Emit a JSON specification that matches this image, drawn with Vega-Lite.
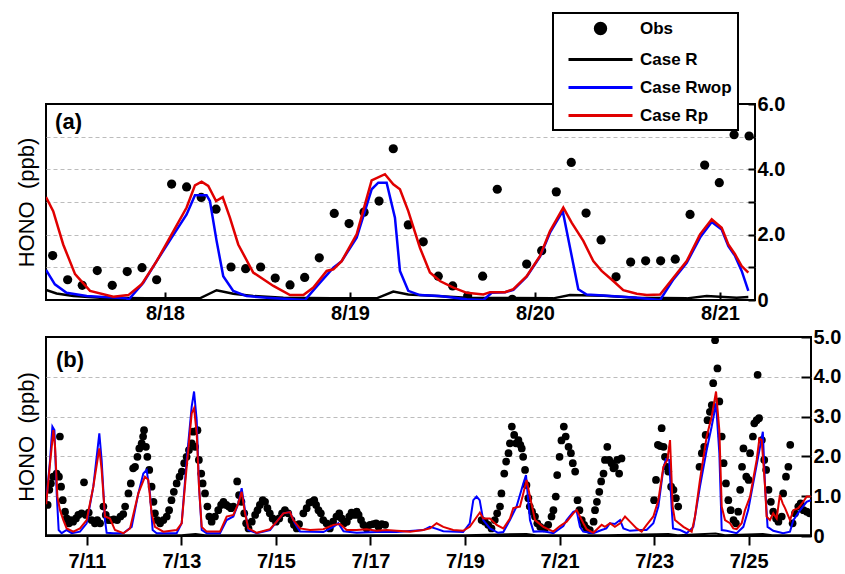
{
  "$schema": "https://vega.github.io/schema/vega-lite/v6.json",
  "padding": {"left": 14, "top": 11, "right": 2, "bottom": 2},
  "spacing": 2,
  "config": {
    "view": {"stroke": "black", "strokeWidth": 2},
    "font": "Liberation Sans",
    "axis": {"labelFont": "Liberation Sans", "labelFontWeight": "bold", "labelFontSize": 20, "labelColor": "black", "titleColor": "black", "tickColor": "black", "tickWidth": 2}
  },
  "resolve": {"scale": {"color": "independent"}, "legend": {"color": "independent"}},
  "datasets": {
    "obsA": [
      {"d":17.393,"v":1.36},{"d":17.474,"v":0.62},{"d":17.553,"v":0.45},{"d":17.634,"v":0.90},{"d":17.715,"v":0.45},{"d":17.796,"v":0.87},{"d":17.876,"v":0.99},{"d":17.955,"v":0.62},
      {"d":18.036,"v":3.55},{"d":18.117,"v":3.46},{"d":18.196,"v":3.14},{"d":18.276,"v":2.78},{"d":18.357,"v":1.01},{"d":18.436,"v":0.96},{"d":18.517,"v":1.01},{"d":18.596,"v":0.67},
      {"d":18.676,"v":0.46},{"d":18.755,"v":0.69},{"d":18.834,"v":1.29},{"d":18.915,"v":2.65},{"d":18.995,"v":2.34},{"d":19.076,"v":2.69},{"d":19.157,"v":3.03},{"d":19.234,"v":4.63},
      {"d":19.315,"v":2.30},{"d":19.396,"v":1.78},{"d":19.477,"v":0.73},{"d":19.555,"v":0.43},{"d":19.636,"v":0.12},{"d":19.717,"v":0.73},{"d":19.796,"v":3.39},{"d":19.877,"v":0.02},
      {"d":19.955,"v":1.10},{"d":20.036,"v":1.51},{"d":20.115,"v":3.31},{"d":20.196,"v":4.21},{"d":20.276,"v":2.66},{"d":20.357,"v":1.84},{"d":20.438,"v":0.71},{"d":20.517,"v":1.16},
      {"d":20.598,"v":1.20},{"d":20.679,"v":1.20},{"d":20.758,"v":1.25},{"d":20.838,"v":2.62},{"d":20.917,"v":4.13},{"d":20.996,"v":3.59},{"d":21.076,"v":5.06},{"d":21.157,"v":5.02}
    ],
    "linesA": [
      {"s":"Case R","d":17.357,"v":0.31},{"s":"Case R","d":17.414,"v":0.20},{"s":"Case R","d":17.505,"v":0.12},{"s":"Case R","d":17.649,"v":0.07},{"s":"Case R","d":17.9,"v":0.05},{"s":"Case R","d":18.189,"v":0.05},{"s":"Case R","d":18.279,"v":0.30},{"s":"Case R","d":18.369,"v":0.19},{"s":"Case R","d":18.477,"v":0.12},{"s":"Case R","d":18.64,"v":0.07},{"s":"Case R","d":18.9,"v":0.05},{"s":"Case R","d":19.144,"v":0.05},{"s":"Case R","d":19.234,"v":0.26},{"s":"Case R","d":19.315,"v":0.17},{"s":"Case R","d":19.468,"v":0.12},{"s":"Case R","d":19.631,"v":0.07},{"s":"Case R","d":20.099,"v":0.05},{"s":"Case R","d":20.189,"v":0.15},{"s":"Case R","d":20.369,"v":0.13},{"s":"Case R","d":20.55,"v":0.07},{"s":"Case R","d":20.82,"v":0.05},{"s":"Case R","d":20.928,"v":0.12},{"s":"Case R","d":21.09,"v":0.07},{"s":"Case R","d":21.153,"v":0.09},
      {"s":"Case Rwop","d":17.357,"v":0.92},{"s":"Case Rwop","d":17.405,"v":0.48},{"s":"Case Rwop","d":17.468,"v":0.22},{"s":"Case Rwop","d":17.577,"v":0.12},{"s":"Case Rwop","d":17.793,"v":0.05},{"s":"Case Rwop","d":17.802,"v":0.0},{"s":"Case Rwop","d":17.883,"v":0.53},{"s":"Case Rwop","d":17.955,"v":1.19},{"s":"Case Rwop","d":18.036,"v":1.91},{"s":"Case Rwop","d":18.117,"v":2.62},{"s":"Case Rwop","d":18.162,"v":3.21},{"s":"Case Rwop","d":18.225,"v":3.21},{"s":"Case Rwop","d":18.243,"v":3.03},{"s":"Case Rwop","d":18.279,"v":1.81},{"s":"Case Rwop","d":18.315,"v":0.73},{"s":"Case Rwop","d":18.369,"v":0.28},{"s":"Case Rwop","d":18.441,"v":0.12},{"s":"Case Rwop","d":18.55,"v":0.07},{"s":"Case Rwop","d":18.757,"v":0.0},{"s":"Case Rwop","d":18.838,"v":0.53},{"s":"Case Rwop","d":18.91,"v":0.99},{"s":"Case Rwop","d":18.955,"v":1.19},{"s":"Case Rwop","d":19.036,"v":1.91},{"s":"Case Rwop","d":19.117,"v":3.39},{"s":"Case Rwop","d":19.153,"v":3.59},{"s":"Case Rwop","d":19.198,"v":3.59},{"s":"Case Rwop","d":19.243,"v":2.52},{"s":"Case Rwop","d":19.27,"v":0.89},{"s":"Case Rwop","d":19.315,"v":0.28},{"s":"Case Rwop","d":19.378,"v":0.15},{"s":"Case Rwop","d":19.486,"v":0.12},{"s":"Case Rwop","d":19.631,"v":0.02},{"s":"Case Rwop","d":19.721,"v":0.0},{"s":"Case Rwop","d":19.766,"v":0.22},{"s":"Case Rwop","d":19.838,"v":0.24},{"s":"Case Rwop","d":19.883,"v":0.31},{"s":"Case Rwop","d":19.955,"v":0.71},{"s":"Case Rwop","d":20.027,"v":1.33},{"s":"Case Rwop","d":20.081,"v":2.06},{"s":"Case Rwop","d":20.15,"v":2.72},{"s":"Case Rwop","d":20.234,"v":0.33},{"s":"Case Rwop","d":20.279,"v":0.17},{"s":"Case Rwop","d":20.369,"v":0.14},{"s":"Case Rwop","d":20.55,"v":0.07},{"s":"Case Rwop","d":20.676,"v":0.0},{"s":"Case Rwop","d":20.748,"v":0.63},{"s":"Case Rwop","d":20.82,"v":1.14},{"s":"Case Rwop","d":20.892,"v":1.91},{"s":"Case Rwop","d":20.955,"v":2.39},{"s":"Case Rwop","d":21.009,"v":2.16},{"s":"Case Rwop","d":21.045,"v":1.65},{"s":"Case Rwop","d":21.081,"v":1.35},{"s":"Case Rwop","d":21.117,"v":0.89},{"s":"Case Rwop","d":21.153,"v":0.28},
      {"s":"Case Rp","d":17.357,"v":3.15},{"s":"Case Rp","d":17.396,"v":2.72},{"s":"Case Rp","d":17.45,"v":1.70},{"s":"Case Rp","d":17.514,"v":0.79},{"s":"Case Rp","d":17.595,"v":0.28},{"s":"Case Rp","d":17.721,"v":0.10},{"s":"Case Rp","d":17.802,"v":0.15},{"s":"Case Rp","d":17.874,"v":0.48},{"s":"Case Rp","d":17.955,"v":1.19},{"s":"Case Rp","d":18.036,"v":2.01},{"s":"Case Rp","d":18.117,"v":2.83},{"s":"Case Rp","d":18.162,"v":3.51},{"s":"Case Rp","d":18.198,"v":3.62},{"s":"Case Rp","d":18.234,"v":3.49},{"s":"Case Rp","d":18.276,"v":3.03},{"s":"Case Rp","d":18.312,"v":3.15},{"s":"Case Rp","d":18.351,"v":2.52},{"s":"Case Rp","d":18.396,"v":1.70},{"s":"Case Rp","d":18.477,"v":0.84},{"s":"Case Rp","d":18.586,"v":0.43},{"s":"Case Rp","d":18.676,"v":0.15},{"s":"Case Rp","d":18.748,"v":0.15},{"s":"Case Rp","d":18.802,"v":0.38},{"s":"Case Rp","d":18.874,"v":0.89},{"s":"Case Rp","d":18.91,"v":0.94},{"s":"Case Rp","d":18.955,"v":1.19},{"s":"Case Rp","d":19.036,"v":2.01},{"s":"Case Rp","d":19.117,"v":3.66},{"s":"Case Rp","d":19.189,"v":3.85},{"s":"Case Rp","d":19.234,"v":3.54},{"s":"Case Rp","d":19.27,"v":3.39},{"s":"Case Rp","d":19.315,"v":2.72},{"s":"Case Rp","d":19.378,"v":1.60},{"s":"Case Rp","d":19.432,"v":0.84},{"s":"Case Rp","d":19.486,"v":0.58},{"s":"Case Rp","d":19.559,"v":0.38},{"s":"Case Rp","d":19.631,"v":0.22},{"s":"Case Rp","d":19.721,"v":0.17},{"s":"Case Rp","d":19.757,"v":0.24},{"s":"Case Rp","d":19.838,"v":0.24},{"s":"Case Rp","d":19.883,"v":0.33},{"s":"Case Rp","d":19.955,"v":0.73},{"s":"Case Rp","d":20.027,"v":1.35},{"s":"Case Rp","d":20.081,"v":2.11},{"s":"Case Rp","d":20.153,"v":2.83},{"s":"Case Rp","d":20.198,"v":2.37},{"s":"Case Rp","d":20.261,"v":1.81},{"s":"Case Rp","d":20.315,"v":1.19},{"s":"Case Rp","d":20.36,"v":0.89},{"s":"Case Rp","d":20.423,"v":0.58},{"s":"Case Rp","d":20.477,"v":0.30},{"s":"Case Rp","d":20.55,"v":0.19},{"s":"Case Rp","d":20.604,"v":0.15},{"s":"Case Rp","d":20.676,"v":0.17},{"s":"Case Rp","d":20.748,"v":0.68},{"s":"Case Rp","d":20.82,"v":1.19},{"s":"Case Rp","d":20.892,"v":2.01},{"s":"Case Rp","d":20.955,"v":2.47},{"s":"Case Rp","d":21.009,"v":2.21},{"s":"Case Rp","d":21.045,"v":1.70},{"s":"Case Rp","d":21.081,"v":1.40},{"s":"Case Rp","d":21.117,"v":1.04},{"s":"Case Rp","d":21.153,"v":0.84}
    ],
    "obsB": [
      {"d":10.171,"v":0.78},{"d":10.206,"v":1.16},{"d":10.24,"v":1.32},{"d":10.29,"v":1.49},{"d":10.36,"v":1.57},{"d":10.41,"v":1.49},{"d":10.43,"v":2.50},{"d":10.455,"v":1.24},{"d":10.49,"v":0.90},{"d":10.54,"v":0.61},{"d":10.573,"v":0.44},{"d":10.62,"v":0.32},{"d":10.66,"v":0.40},{"d":10.71,"v":0.36},{"d":10.77,"v":0.44},{"d":10.82,"v":0.53},{"d":10.89,"v":0.57},{"d":10.94,"v":1.35},{"d":10.98,"v":0.53},{"d":11.04,"v":0.59},
      {"d":11.10,"v":0.40},{"d":11.17,"v":0.32},{"d":11.22,"v":0.40},{"d":11.28,"v":0.32},{"d":11.35,"v":0.74},{"d":11.40,"v":0.53},{"d":11.45,"v":0.40},{"d":11.51,"v":0.40},{"d":11.57,"v":0.42},{"d":11.64,"v":0.40},{"d":11.71,"v":0.49},{"d":11.77,"v":0.55},{"d":11.81,"v":0.74},{"d":11.88,"v":1.07},{"d":11.93,"v":1.32},{"d":11.98,"v":1.70},{"d":12.02,"v":1.74},{"d":12.07,"v":1.99},{"d":12.11,"v":2.20},{"d":12.16,"v":2.33},
      {"d":12.19,"v":2.50},{"d":12.21,"v":2.66},{"d":12.25,"v":2.24},{"d":12.28,"v":1.99},{"d":12.32,"v":1.66},{"d":12.37,"v":1.24},{"d":12.41,"v":0.86},{"d":12.44,"v":0.57},{"d":12.49,"v":0.40},{"d":12.55,"v":0.32},{"d":12.62,"v":0.40},{"d":12.69,"v":0.49},{"d":12.74,"v":0.65},{"d":12.79,"v":0.90},{"d":12.84,"v":1.11},{"d":12.90,"v":1.32},{"d":12.96,"v":1.49},{"d":13.01,"v":1.62},{"d":13.06,"v":1.83},{"d":13.11,"v":1.99},
      {"d":13.16,"v":2.16},{"d":13.22,"v":2.33},{"d":13.25,"v":2.62},{"d":13.29,"v":2.24},{"d":13.34,"v":2.66},{"d":13.37,"v":1.91},{"d":13.42,"v":1.57},{"d":13.45,"v":1.32},{"d":13.50,"v":1.07},{"d":13.55,"v":0.74},{"d":13.59,"v":0.49},{"d":13.64,"v":0.36},{"d":13.71,"v":0.49},{"d":13.78,"v":0.65},{"d":13.84,"v":0.78},{"d":13.89,"v":0.86},{"d":13.95,"v":0.78},{"d":14.00,"v":0.74},{"d":14.05,"v":0.70},{"d":14.10,"v":0.74},
      {"d":14.18,"v":1.37},{"d":14.22,"v":1.03},{"d":14.27,"v":0.86},{"d":14.33,"v":0.57},{"d":14.37,"v":0.32},{"d":14.42,"v":0.19},{"d":14.49,"v":0.36},{"d":14.56,"v":0.53},{"d":14.61,"v":0.65},{"d":14.66,"v":0.78},{"d":14.72,"v":0.90},{"d":14.77,"v":0.86},{"d":14.82,"v":0.70},{"d":14.87,"v":0.57},{"d":14.93,"v":0.44},{"d":15.00,"v":0.36},{"d":15.07,"v":0.44},{"d":15.13,"v":0.57},{"d":15.19,"v":0.65},{"d":15.26,"v":0.57},
      {"d":15.33,"v":0.40},{"d":15.38,"v":0.28},{"d":15.44,"v":0.19},{"d":15.49,"v":0.30},{"d":15.58,"v":0.57},{"d":15.65,"v":0.70},{"d":15.71,"v":0.84},{"d":15.76,"v":0.86},{"d":15.81,"v":0.90},{"d":15.85,"v":0.78},{"d":15.90,"v":0.65},{"d":15.95,"v":0.57},{"d":16.00,"v":0.40},{"d":16.07,"v":0.32},{"d":16.14,"v":0.19},{"d":16.21,"v":0.36},{"d":16.28,"v":0.49},{"d":16.34,"v":0.57},{"d":16.39,"v":0.44},{"d":16.44,"v":0.32},
      {"d":16.50,"v":0.36},{"d":16.55,"v":0.49},{"d":16.60,"v":0.59},{"d":16.66,"v":0.53},{"d":16.71,"v":0.61},{"d":16.75,"v":0.53},{"d":16.80,"v":0.40},{"d":16.85,"v":0.28},{"d":16.92,"v":0.19},{"d":16.99,"v":0.28},{"d":17.06,"v":0.30},{"d":17.12,"v":0.32},{"d":17.17,"v":0.23},{"d":17.24,"v":0.30},{"d":17.31,"v":0.28},
      {"d":19.35,"v":0.40},{"d":19.42,"v":0.36},{"d":19.49,"v":0.28},{"d":19.56,"v":0.19},{"d":19.63,"v":0.40},{"d":19.68,"v":0.57},{"d":19.74,"v":0.74},{"d":19.77,"v":1.07},{"d":19.83,"v":1.57},{"d":19.87,"v":1.87},{"d":19.92,"v":2.08},{"d":19.95,"v":2.33},{"d":19.99,"v":2.75},{"d":20.04,"v":2.54},{"d":20.08,"v":2.33},{"d":20.13,"v":2.41},{"d":20.17,"v":2.29},{"d":20.20,"v":2.20},{"d":20.23,"v":1.99},{"d":20.27,"v":1.66},
      {"d":20.30,"v":1.28},{"d":20.34,"v":0.95},{"d":20.37,"v":0.74},{"d":20.42,"v":0.61},{"d":20.48,"v":0.49},{"d":20.53,"v":0.32},{"d":20.59,"v":0.23},{"d":20.69,"v":0.19},{"d":20.76,"v":0.28},{"d":20.83,"v":0.49},{"d":20.87,"v":0.65},{"d":20.92,"v":0.99},{"d":20.95,"v":1.53},{"d":21.00,"v":1.99},{"d":21.04,"v":2.40},{"d":21.09,"v":2.75},{"d":21.13,"v":2.50},{"d":21.19,"v":2.24},{"d":21.24,"v":2.08},{"d":21.28,"v":1.83},
      {"d":21.33,"v":1.62},{"d":21.38,"v":0.90},{"d":21.42,"v":0.65},{"d":21.47,"v":0.40},{"d":21.52,"v":0.28},{"d":21.57,"v":0.19},{"d":21.64,"v":0.15},{"d":21.72,"v":0.36},{"d":21.75,"v":0.65},{"d":21.79,"v":0.86},{"d":21.84,"v":1.11},{"d":21.88,"v":1.37},{"d":21.93,"v":1.57},{"d":21.96,"v":1.91},{"d":22.01,"v":2.24},{"d":22.05,"v":1.91},{"d":22.10,"v":1.83},{"d":22.14,"v":1.70},{"d":22.17,"v":1.74},{"d":22.22,"v":1.91},
      {"d":22.26,"v":1.57},{"d":22.31,"v":1.95},{"d":23.00,"v":0.90},{"d":23.04,"v":1.41},{"d":23.08,"v":2.29},{"d":23.13,"v":2.26},{"d":23.16,"v":2.71},{"d":23.20,"v":2.24},{"d":23.23,"v":1.99},{"d":23.27,"v":1.74},{"d":23.30,"v":1.62},{"d":23.36,"v":1.24},{"d":23.41,"v":1.16},{"d":23.46,"v":0.95},{"d":23.51,"v":0.74},{"d":23.96,"v":1.74},{"d":24.01,"v":2.08},{"d":24.06,"v":2.24},{"d":24.09,"v":2.54},{"d":24.13,"v":2.91},
      {"d":24.18,"v":3.12},{"d":24.22,"v":3.29},{"d":24.25,"v":3.84},{"d":24.29,"v":4.92},{"d":24.34,"v":4.21},{"d":24.38,"v":3.38},{"d":24.43,"v":2.50},{"d":24.47,"v":1.83},{"d":24.52,"v":1.32},{"d":24.57,"v":0.90},{"d":24.62,"v":0.65},{"d":24.68,"v":0.40},{"d":24.73,"v":0.32},{"d":24.78,"v":0.61},{"d":24.82,"v":1.16},{"d":24.86,"v":1.74},{"d":24.89,"v":2.20},{"d":24.95,"v":1.49},{"d":25.00,"v":1.41},{"d":25.03,"v":2.08},
      {"d":25.09,"v":2.50},{"d":25.12,"v":2.83},{"d":25.17,"v":2.91},{"d":25.19,"v":4.05},{"d":25.22,"v":2.96},{"d":25.28,"v":2.41},{"d":25.33,"v":1.91},{"d":25.37,"v":1.66},{"d":25.42,"v":1.16},{"d":25.47,"v":0.86},{"d":25.52,"v":0.61},{"d":25.58,"v":0.44},{"d":25.63,"v":0.36},{"d":25.70,"v":0.49},{"d":25.73,"v":1.07},{"d":25.79,"v":1.49},{"d":25.84,"v":1.74},{"d":25.88,"v":2.29},{"d":25.93,"v":0.32},{"d":25.98,"v":0.57},
      {"d":26.05,"v":0.74},{"d":26.10,"v":0.82},{"d":26.16,"v":0.65},{"d":26.23,"v":0.61},{"d":26.29,"v":0.57}
    ],
    "linesB": [
      {"s":"Case R","d":10.136,"v":0.02},{"s":"Case R","d":11,"v":0.02},{"s":"Case R","d":12,"v":0.02},{"s":"Case R","d":13,"v":0.02},{"s":"Case R","d":13.3,"v":0.05},{"s":"Case R","d":13.5,"v":0.02},{"s":"Case R","d":15,"v":0.02},{"s":"Case R","d":17,"v":0.02},{"s":"Case R","d":19,"v":0.02},{"s":"Case R","d":20.3,"v":0.05},{"s":"Case R","d":20.5,"v":0.02},{"s":"Case R","d":22,"v":0.02},{"s":"Case R","d":23.3,"v":0.05},{"s":"Case R","d":23.5,"v":0.02},{"s":"Case R","d":24.3,"v":0.06},{"s":"Case R","d":24.5,"v":0.02},{"s":"Case R","d":25.3,"v":0.05},{"s":"Case R","d":25.5,"v":0.02},{"s":"Case R","d":26.313,"v":0.02},
      {"s":"Case Rwop","d":10.14,"v":0.85},{"s":"Case Rwop","d":10.222,"v":1.91},{"s":"Case Rwop","d":10.271,"v":2.75},{"s":"Case Rwop","d":10.314,"v":2.66},{"s":"Case Rwop","d":10.362,"v":1.07},{"s":"Case Rwop","d":10.404,"v":0.15},{"s":"Case Rwop","d":10.467,"v":0.07},{"s":"Case Rwop","d":10.573,"v":0.15},{"s":"Case Rwop","d":10.68,"v":0.07},{"s":"Case Rwop","d":10.855,"v":0.11},{"s":"Case Rwop","d":10.996,"v":0.32},{"s":"Case Rwop","d":11.137,"v":1.24},{"s":"Case Rwop","d":11.264,"v":2.58},{"s":"Case Rwop","d":11.313,"v":1.91},{"s":"Case Rwop","d":11.384,"v":0.40},{"s":"Case Rwop","d":11.419,"v":0.08},{"s":"Case Rwop","d":11.56,"v":0.07},{"s":"Case Rwop","d":11.772,"v":0.07},{"s":"Case Rwop","d":11.948,"v":0.23},{"s":"Case Rwop","d":12.089,"v":1.07},
      {"s":"Case Rwop","d":12.195,"v":1.57},{"s":"Case Rwop","d":12.265,"v":1.66},{"s":"Case Rwop","d":12.336,"v":1.07},{"s":"Case Rwop","d":12.392,"v":0.15},{"s":"Case Rwop","d":12.477,"v":0.07},{"s":"Case Rwop","d":12.9,"v":0.07},{"s":"Case Rwop","d":13.006,"v":0.32},{"s":"Case Rwop","d":13.112,"v":1.91},{"s":"Case Rwop","d":13.218,"v":3.25},{"s":"Case Rwop","d":13.268,"v":3.63},{"s":"Case Rwop","d":13.324,"v":2.91},{"s":"Case Rwop","d":13.373,"v":1.24},{"s":"Case Rwop","d":13.43,"v":0.15},{"s":"Case Rwop","d":13.535,"v":0.07},{"s":"Case Rwop","d":13.817,"v":0.07},{"s":"Case Rwop","d":13.958,"v":0.40},{"s":"Case Rwop","d":14.099,"v":0.49},{"s":"Case Rwop","d":14.205,"v":0.82},{"s":"Case Rwop","d":14.275,"v":1.20},{"s":"Case Rwop","d":14.346,"v":0.65},
      {"s":"Case Rwop","d":14.416,"v":0.15},{"s":"Case Rwop","d":14.593,"v":0.07},{"s":"Case Rwop","d":14.875,"v":0.15},{"s":"Case Rwop","d":15.016,"v":0.36},{"s":"Case Rwop","d":15.157,"v":0.57},{"s":"Case Rwop","d":15.298,"v":0.60},{"s":"Case Rwop","d":15.4,"v":0.32},{"s":"Case Rwop","d":15.509,"v":0.11},{"s":"Case Rwop","d":16.003,"v":0.10},{"s":"Case Rwop","d":16.215,"v":0.23},{"s":"Case Rwop","d":16.32,"v":0.32},{"s":"Case Rwop","d":16.43,"v":0.12},{"s":"Case Rwop","d":16.707,"v":0.08},{"s":"Case Rwop","d":17.13,"v":0.10},{"s":"Case Rwop","d":17.55,"v":0.10},{"s":"Case Rwop","d":18.117,"v":0.15},{"s":"Case Rwop","d":18.258,"v":0.23},{"s":"Case Rwop","d":18.4,"v":0.18},{"s":"Case Rwop","d":18.54,"v":0.12},{"s":"Case Rwop","d":18.96,"v":0.10},
      {"s":"Case Rwop","d":19.1,"v":0.32},{"s":"Case Rwop","d":19.175,"v":0.90},{"s":"Case Rwop","d":19.245,"v":0.99},{"s":"Case Rwop","d":19.31,"v":0.90},{"s":"Case Rwop","d":19.385,"v":0.40},{"s":"Case Rwop","d":19.527,"v":0.19},{"s":"Case Rwop","d":19.7,"v":0.08},{"s":"Case Rwop","d":19.81,"v":0.10},{"s":"Case Rwop","d":19.95,"v":0.40},{"s":"Case Rwop","d":20.09,"v":0.74},{"s":"Case Rwop","d":20.233,"v":1.32},{"s":"Case Rwop","d":20.29,"v":1.53},{"s":"Case Rwop","d":20.374,"v":0.40},{"s":"Case Rwop","d":20.45,"v":0.11},{"s":"Case Rwop","d":20.656,"v":0.12},{"s":"Case Rwop","d":20.87,"v":0.07},{"s":"Case Rwop","d":21.08,"v":0.25},{"s":"Case Rwop","d":21.15,"v":0.40},{"s":"Case Rwop","d":21.291,"v":0.61},{"s":"Case Rwop","d":21.36,"v":0.64},
      {"s":"Case Rwop","d":21.432,"v":0.23},{"s":"Case Rwop","d":21.5,"v":0.11},{"s":"Case Rwop","d":21.714,"v":0.07},{"s":"Case Rwop","d":21.89,"v":0.15},{"s":"Case Rwop","d":21.99,"v":0.19},{"s":"Case Rwop","d":22.067,"v":0.32},{"s":"Case Rwop","d":22.17,"v":0.30},{"s":"Case Rwop","d":22.28,"v":0.40},{"s":"Case Rwop","d":22.35,"v":0.19},{"s":"Case Rwop","d":22.49,"v":0.13},{"s":"Case Rwop","d":22.7,"v":0.15},{"s":"Case Rwop","d":22.84,"v":0.15},{"s":"Case Rwop","d":22.984,"v":0.32},{"s":"Case Rwop","d":23.09,"v":0.74},{"s":"Case Rwop","d":23.196,"v":1.70},{"s":"Case Rwop","d":23.25,"v":1.93},{"s":"Case Rwop","d":23.32,"v":1.91},{"s":"Case Rwop","d":23.37,"v":0.74},{"s":"Case Rwop","d":23.4,"v":0.19},{"s":"Case Rwop","d":23.55,"v":0.15},
      {"s":"Case Rwop","d":23.69,"v":0.07},{"s":"Case Rwop","d":23.83,"v":0.23},{"s":"Case Rwop","d":23.97,"v":1.24},{"s":"Case Rwop","d":24.112,"v":2.16},{"s":"Case Rwop","d":24.218,"v":2.75},{"s":"Case Rwop","d":24.31,"v":3.33},{"s":"Case Rwop","d":24.38,"v":2.08},{"s":"Case Rwop","d":24.43,"v":0.15},{"s":"Case Rwop","d":24.535,"v":0.13},{"s":"Case Rwop","d":24.746,"v":0.07},{"s":"Case Rwop","d":24.888,"v":0.23},{"s":"Case Rwop","d":24.99,"v":0.65},{"s":"Case Rwop","d":25.135,"v":1.57},{"s":"Case Rwop","d":25.241,"v":2.24},{"s":"Case Rwop","d":25.3,"v":2.62},{"s":"Case Rwop","d":25.347,"v":1.24},{"s":"Case Rwop","d":25.4,"v":0.23},{"s":"Case Rwop","d":25.52,"v":0.13},{"s":"Case Rwop","d":25.73,"v":0.07},{"s":"Case Rwop","d":25.875,"v":0.11},
      {"s":"Case Rwop","d":25.946,"v":0.40},{"s":"Case Rwop","d":26.09,"v":0.65},{"s":"Case Rwop","d":26.226,"v":0.86},{"s":"Case Rwop","d":26.313,"v":0.90},
      {"s":"Case Rp","d":10.14,"v":0.80},{"s":"Case Rp","d":10.222,"v":1.83},{"s":"Case Rp","d":10.293,"v":2.66},{"s":"Case Rp","d":10.328,"v":2.24},{"s":"Case Rp","d":10.377,"v":0.99},{"s":"Case Rp","d":10.432,"v":0.65},{"s":"Case Rp","d":10.503,"v":0.40},{"s":"Case Rp","d":10.573,"v":0.19},{"s":"Case Rp","d":10.714,"v":0.11},{"s":"Case Rp","d":10.855,"v":0.19},{"s":"Case Rp","d":10.996,"v":0.40},{"s":"Case Rp","d":11.137,"v":1.24},{"s":"Case Rp","d":11.264,"v":2.20},{"s":"Case Rp","d":11.313,"v":1.66},{"s":"Case Rp","d":11.384,"v":0.49},{"s":"Case Rp","d":11.49,"v":0.44},{"s":"Case Rp","d":11.595,"v":0.15},{"s":"Case Rp","d":11.772,"v":0.07},{"s":"Case Rp","d":11.913,"v":0.19},{"s":"Case Rp","d":12.089,"v":1.07},
      {"s":"Case Rp","d":12.23,"v":1.49},{"s":"Case Rp","d":12.3,"v":1.41},{"s":"Case Rp","d":12.371,"v":0.57},{"s":"Case Rp","d":12.441,"v":0.23},{"s":"Case Rp","d":12.617,"v":0.11},{"s":"Case Rp","d":12.9,"v":0.15},{"s":"Case Rp","d":13.006,"v":0.32},{"s":"Case Rp","d":13.112,"v":1.74},{"s":"Case Rp","d":13.218,"v":3.08},{"s":"Case Rp","d":13.268,"v":3.21},{"s":"Case Rp","d":13.324,"v":2.58},{"s":"Case Rp","d":13.373,"v":1.24},{"s":"Case Rp","d":13.43,"v":0.23},{"s":"Case Rp","d":13.535,"v":0.11},{"s":"Case Rp","d":13.817,"v":0.11},{"s":"Case Rp","d":13.958,"v":0.49},{"s":"Case Rp","d":14.099,"v":0.53},{"s":"Case Rp","d":14.205,"v":0.82},{"s":"Case Rp","d":14.275,"v":1.11},{"s":"Case Rp","d":14.346,"v":0.57},
      {"s":"Case Rp","d":14.416,"v":0.19},{"s":"Case Rp","d":14.593,"v":0.08},{"s":"Case Rp","d":14.875,"v":0.17},{"s":"Case Rp","d":15.016,"v":0.36},{"s":"Case Rp","d":15.157,"v":0.57},{"s":"Case Rp","d":15.298,"v":0.60},{"s":"Case Rp","d":15.368,"v":0.40},{"s":"Case Rp","d":15.509,"v":0.19},{"s":"Case Rp","d":15.72,"v":0.15},{"s":"Case Rp","d":16.003,"v":0.17},{"s":"Case Rp","d":16.215,"v":0.28},{"s":"Case Rp","d":16.356,"v":0.30},{"s":"Case Rp","d":16.497,"v":0.15},{"s":"Case Rp","d":16.707,"v":0.15},{"s":"Case Rp","d":16.919,"v":0.17},{"s":"Case Rp","d":17.13,"v":0.13},{"s":"Case Rp","d":17.34,"v":0.15},{"s":"Case Rp","d":17.553,"v":0.13},{"s":"Case Rp","d":17.835,"v":0.11},{"s":"Case Rp","d":18.117,"v":0.15},
      {"s":"Case Rp","d":18.258,"v":0.19},{"s":"Case Rp","d":18.4,"v":0.32},{"s":"Case Rp","d":18.54,"v":0.23},{"s":"Case Rp","d":18.75,"v":0.15},{"s":"Case Rp","d":18.96,"v":0.13},{"s":"Case Rp","d":19.1,"v":0.23},{"s":"Case Rp","d":19.314,"v":0.59},{"s":"Case Rp","d":19.385,"v":0.44},{"s":"Case Rp","d":19.527,"v":0.44},{"s":"Case Rp","d":19.668,"v":0.28},{"s":"Case Rp","d":19.809,"v":0.19},{"s":"Case Rp","d":19.95,"v":0.44},{"s":"Case Rp","d":20.021,"v":0.70},{"s":"Case Rp","d":20.162,"v":0.74},{"s":"Case Rp","d":20.233,"v":1.07},{"s":"Case Rp","d":20.303,"v":1.41},{"s":"Case Rp","d":20.374,"v":0.99},{"s":"Case Rp","d":20.48,"v":0.40},{"s":"Case Rp","d":20.656,"v":0.23},{"s":"Case Rp","d":20.868,"v":0.11},
      {"s":"Case Rp","d":21.009,"v":0.25},{"s":"Case Rp","d":21.15,"v":0.36},{"s":"Case Rp","d":21.291,"v":0.57},{"s":"Case Rp","d":21.362,"v":0.65},{"s":"Case Rp","d":21.432,"v":0.49},{"s":"Case Rp","d":21.503,"v":0.32},{"s":"Case Rp","d":21.573,"v":0.17},{"s":"Case Rp","d":21.714,"v":0.08},{"s":"Case Rp","d":21.891,"v":0.28},{"s":"Case Rp","d":21.96,"v":0.23},{"s":"Case Rp","d":22.067,"v":0.32},{"s":"Case Rp","d":22.17,"v":0.23},{"s":"Case Rp","d":22.28,"v":0.32},{"s":"Case Rp","d":22.385,"v":0.49},{"s":"Case Rp","d":22.49,"v":0.36},{"s":"Case Rp","d":22.63,"v":0.19},{"s":"Case Rp","d":22.737,"v":0.11},{"s":"Case Rp","d":22.843,"v":0.28},{"s":"Case Rp","d":22.984,"v":0.49},{"s":"Case Rp","d":23.09,"v":0.90},
      {"s":"Case Rp","d":23.196,"v":1.74},{"s":"Case Rp","d":23.28,"v":1.91},{"s":"Case Rp","d":23.337,"v":2.41},{"s":"Case Rp","d":23.393,"v":0.74},{"s":"Case Rp","d":23.44,"v":0.40},{"s":"Case Rp","d":23.62,"v":0.23},{"s":"Case Rp","d":23.795,"v":0.11},{"s":"Case Rp","d":23.865,"v":0.49},{"s":"Case Rp","d":23.97,"v":1.41},{"s":"Case Rp","d":24.112,"v":2.50},{"s":"Case Rp","d":24.218,"v":3.00},{"s":"Case Rp","d":24.31,"v":3.63},{"s":"Case Rp","d":24.38,"v":2.66},{"s":"Case Rp","d":24.43,"v":0.74},{"s":"Case Rp","d":24.5,"v":0.40},{"s":"Case Rp","d":24.605,"v":0.32},{"s":"Case Rp","d":24.676,"v":0.19},{"s":"Case Rp","d":24.746,"v":0.17},{"s":"Case Rp","d":24.852,"v":0.32},{"s":"Case Rp","d":24.923,"v":0.65},
      {"s":"Case Rp","d":25.029,"v":0.99},{"s":"Case Rp","d":25.17,"v":1.91},{"s":"Case Rp","d":25.227,"v":2.45},{"s":"Case Rp","d":25.276,"v":2.41},{"s":"Case Rp","d":25.347,"v":1.24},{"s":"Case Rp","d":25.38,"v":0.49},{"s":"Case Rp","d":25.45,"v":0.40},{"s":"Case Rp","d":25.52,"v":0.57},{"s":"Case Rp","d":25.593,"v":0.44},{"s":"Case Rp","d":25.66,"v":1.03},{"s":"Case Rp","d":25.72,"v":0.82},{"s":"Case Rp","d":25.77,"v":0.70},{"s":"Case Rp","d":25.875,"v":0.40},{"s":"Case Rp","d":25.946,"v":0.65},{"s":"Case Rp","d":26.05,"v":0.70},{"s":"Case Rp","d":26.155,"v":0.86},{"s":"Case Rp","d":26.226,"v":0.99},{"s":"Case Rp","d":26.313,"v":0.99}
    ]
  },
  "vconcat": [
    {
      "width": 709,
      "height": 196,
      "resolve": {"axis": {"y": "independent"}},
      "layer": [
        {
          "data": {"name": "obsA"},
          "mark": {"type": "circle", "size": 85, "color": "black", "opacity": 1, "clip": true},
          "encoding": {
            "x": {"field": "d", "type": "quantitative", "scale": {"domain": [17.357, 21.189], "nice": false, "zero": false},
                  "axis": {"title": null, "values": [18, 19, 20, 21], "labelExpr": "'8/' + datum.value", "grid": false, "domain": false, "tickSize": -8, "labelPadding": 11, "labelFlush": false}},
            "y": {"field": "v", "type": "quantitative", "scale": {"domain": [0, 6], "nice": false, "zero": false},
                  "axis": {"orient": "left", "title": "HONO\u00a0\u00a0(ppb)", "titleFont": "Liberation Sans", "titleFontSize": 22, "titleFontWeight": "normal", "titlePadding": 8, "labels": false, "ticks": false, "domain": false, "grid": true, "values": [1, 2, 3, 4, 5], "gridColor": "#bcbcbc", "gridDash": [4, 3], "gridWidth": 1}}
          }
        },
        {
          "data": {"name": "linesA"},
          "mark": {"type": "line", "strokeWidth": 2.5, "clip": true},
          "encoding": {
            "x": {"field": "d", "type": "quantitative",
                  "axis": {"title": null, "values": [18, 19, 20, 21], "labelExpr": "'8/' + datum.value", "grid": false, "domain": false, "tickSize": -8, "labelPadding": 11, "labelFlush": false}},
            "y": {"field": "v", "type": "quantitative",
                  "axis": {"orient": "right", "title": null, "values": [0, 1, 2, 3, 4, 5, 6], "labelExpr": "datum.value == 0 ? '0' : (datum.value % 2 == 0 ? format(datum.value, '.1f') : '')", "grid": false, "domain": false, "tickSize": -7, "labelPadding": 9}},
            "color": {
              "field": "s", "type": "nominal",
              "scale": {"domain": ["Obs", "Case R", "Case Rwop", "Case Rp"], "range": ["black", "black", "#0000FF", "#E00000"]},
              "legend": {
                "orient": "none", "legendX": 507, "legendY": -91, "title": null,
                "fillColor": "white", "strokeColor": "black", "padding": 6, "rowPadding": 10,
                "labelFont": "Liberation Sans", "labelFontSize": 17, "labelFontWeight": "bold", "labelColor": "black",
                "symbolSize": 256, "symbolStrokeWidth": 3, "symbolOffset": 32, "labelOffset": 30, "symbolType": "M-4,0H4",
                "encode": {
                  "legend": {"update": {"strokeWidth": {"value": 2}}},
                  "symbols": {"update": {
                    "shape": {"signal": "datum.value === 'Obs' ? 'M-0.65,0A0.65,0.65,0,1,1,0.65,0A0.65,0.65,0,1,1,-0.65,0Z' : 'M-4,0H4'"},
                    "fill": {"signal": "datum.value === 'Obs' ? 'black' : 'transparent'"},
                    "stroke": {"signal": "datum.value === 'Case Rwop' ? '#0000FF' : (datum.value === 'Case Rp' ? '#E00000' : (datum.value === 'Obs' ? 'transparent' : 'black'))"},
                    "opacity": {"value": 1}
                  }}
                }
              }
            }
          }
        },
        {
          "data": {"values": [{}]},
          "mark": {"type": "text", "text": "(a)", "font": "Liberation Sans", "fontSize": 22, "fontWeight": "bold", "align": "left", "baseline": "middle", "color": "black"},
          "encoding": {
            "x": {"datum": 17.406, "type": "quantitative",
                  "axis": {"title": null, "values": [18, 19, 20, 21], "labelExpr": "'8/' + datum.value", "grid": false, "domain": false, "tickSize": -8, "labelPadding": 11, "labelFlush": false}},
            "y": {"datum": 5.45, "type": "quantitative", "axis": null}
          }
        }
      ]
    },
    {
      "width": 765,
      "height": 199,
      "resolve": {"axis": {"y": "independent"}},
      "layer": [
        {
          "data": {"name": "obsB"},
          "mark": {"type": "circle", "size": 60, "color": "black", "opacity": 1, "clip": true},
          "encoding": {
            "x": {"field": "d", "type": "quantitative", "scale": {"domain": [10.136, 26.319], "nice": false, "zero": false},
                  "axis": {"title": null, "values": [11, 13, 15, 17, 19, 21, 23, 25], "labelExpr": "'7/' + datum.value", "grid": false, "domain": false, "tickSize": 9, "labelPadding": 6, "labelFlush": false}},
            "y": {"field": "v", "type": "quantitative", "scale": {"domain": [0, 5], "nice": false, "zero": false},
                  "axis": {"orient": "left", "title": "HONO\u00a0\u00a0(ppb)", "titleFont": "Liberation Sans", "titleFontSize": 22, "titleFontWeight": "normal", "titlePadding": 8, "labels": false, "ticks": false, "domain": false, "grid": true, "values": [1, 2, 3, 4], "gridColor": "#bcbcbc", "gridDash": [4, 3], "gridWidth": 1}}
          }
        },
        {
          "data": {"name": "linesB"},
          "mark": {"type": "line", "strokeWidth": 2, "clip": true},
          "encoding": {
            "x": {"field": "d", "type": "quantitative",
                  "axis": {"title": null, "values": [11, 13, 15, 17, 19, 21, 23, 25], "labelExpr": "'7/' + datum.value", "grid": false, "domain": false, "tickSize": 9, "labelPadding": 6, "labelFlush": false}},
            "y": {"field": "v", "type": "quantitative",
                  "axis": {"orient": "right", "title": null, "values": [0, 1, 2, 3, 4, 5], "labelExpr": "datum.value == 0 ? '0' : format(datum.value, '.1f')", "grid": false, "domain": false, "tickSize": -10, "labelPadding": 12}},
            "color": {
              "field": "s", "type": "nominal",
              "scale": {"domain": ["Case R", "Case Rwop", "Case Rp"], "range": ["black", "#0000FF", "#E00000"]},
              "legend": null
            }
          }
        },
        {
          "data": {"values": [{}]},
          "mark": {"type": "text", "text": "(b)", "font": "Liberation Sans", "fontSize": 22, "fontWeight": "bold", "align": "left", "baseline": "middle", "color": "black"},
          "encoding": {
            "x": {"datum": 10.348, "type": "quantitative",
                  "axis": {"title": null, "values": [11, 13, 15, 17, 19, 21, 23, 25], "labelExpr": "'7/' + datum.value", "grid": false, "domain": false, "tickSize": 9, "labelPadding": 6, "labelFlush": false}},
            "y": {"datum": 4.42, "type": "quantitative", "axis": null}
          }
        }
      ]
    }
  ]
}
